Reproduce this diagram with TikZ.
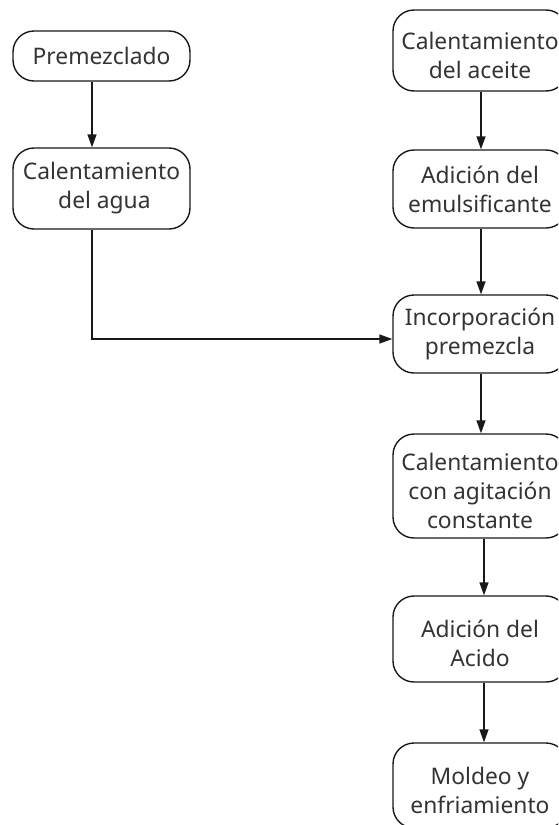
\documentclass[tikz,border=0pt]{standalone}
\usepackage{fontspec}
\setmainfont{Noto Sans}
\usetikzlibrary{arrows.meta}
\definecolor{txt}{HTML}{333333}
\newcommand{\upstrut}{\rule{0pt}{27pt}}
\tikzset{
  box/.style={draw=black!90, line width=1.4pt, rounded corners=21pt, align=center,
    text=txt, font=\fontsize{22.8}{29}\selectfont, inner sep=0pt},
  conn/.style={draw=black!90, line width=1.4pt, -{Triangle[length=13pt,width=9pt]}}
}
\begin{document}
\begin{tikzpicture}[x=1pt,y=-1pt]
\useasboundingbox (0,0) rectangle (558,825);
\clip (0,0) rectangle (558,825);
\node[box, minimum width=177pt, minimum height=50pt] (prem) at (101.5,56) {Premezclado};
\node[box, minimum width=177pt, minimum height=81pt] (agua) at (101.5,188.5) {Calentamiento\\\phantom{i}del agua};
\node[box, minimum width=174pt, minimum height=81pt] (aceite) at (480,50.5) {\upstrut Calentamiento\\del aceite};
\node[box, minimum width=174pt, minimum height=78pt] (emul) at (480,189) {Adición del\\emulsificante};
\node[box, minimum width=174pt, minimum height=78pt] (inc) at (480,334) {Incorporación\\premezcla};
\node[box, minimum width=174pt, minimum height=104pt] (agit) at (480,486) {\upstrut Calentamiento\\con agitación\\constante};
\node[box, minimum width=174pt, minimum height=86pt] (acido) at (480,639) {\upstrut Adición del\\Acido};
\node[box, minimum width=174pt, minimum height=85pt] (mold) at (480,785.5) {\upstrut Moldeo y\\enfriamiento};
\coordinate (lx) at (92,0);
\coordinate (rx) at (481,0);
\coordinate (rx2) at (484,0);
\coordinate (bend) at (92,339);
\draw[conn] (prem.south -| lx) -- (agua.north -| lx);
\draw[conn] (aceite.south -| rx) -- (emul.north -| rx);
\draw[conn] (emul.south -| rx) -- (inc.north -| rx);
\draw[conn] (inc.south -| rx) -- (agit.north -| rx);
\draw[conn] (agit.south -| rx2) -- (acido.north -| rx2);
\draw[conn] (acido.south -| rx2) -- (mold.north -| rx2);
\draw[conn] (agua.south -| lx) -- (bend) -- (bend -| inc.west);
\end{tikzpicture}
\end{document}
